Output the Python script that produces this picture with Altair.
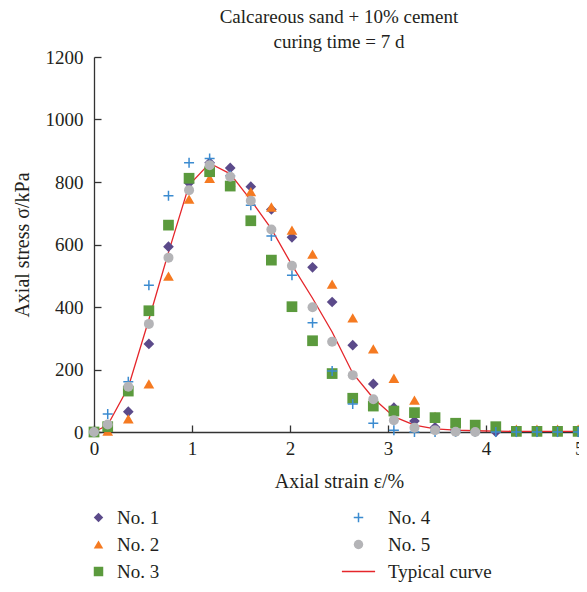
import altair as alt
import pandas as pd

# Axial strain (%) at which the points were recorded
strain = [0, 0.14, 0.35, 0.56, 0.76, 0.97, 1.18, 1.39, 1.60, 1.81, 2.02, 2.23, 2.43,
          2.64, 2.85, 3.06, 3.27, 3.48, 3.69, 3.89, 4.10, 4.31, 4.52, 4.73, 4.94]

# Axial stress (kPa) of each specimen
no1 = [0, 18, 65, 282, 593, 797, 862, 845, 785, 712, 623, 527, 416,
       278, 154, 78, 35, 15, 6, 3, 0, 0, 0, 0, 0]
no2 = [0, 3, 42, 154, 499, 745, 812, 800, 769, 720, 646, 569, 473,
       365, 266, 172, 102, 50, 30, 20, 14, 9, 9, 9, 9]
no3 = [0, 17, 131, 388, 662, 812, 833, 787, 676, 550, 401, 292, 187,
       108, 83, 67, 62, 46, 28, 22, 17, 2, 2, 2, 2]
no4 = [0, 58, 161, 470, 756, 862, 875, 820, 726, 627, 502, 350, 195,
       90, 28, 6, 0, 0, 0, 0, 0, 0, 0, 0, 0]
no5 = [0, 24, 145, 346, 558, 774, 854, 817, 740, 648, 532, 399, 289,
       182, 105, 38, 14, 6, 1, 0, None, None, None, None, None]
typical = [0, 22, 143, 360, 575, 790, 860, 826, 742, 650, 534, 428, 320,
           188, 108, 49, 22, 10, 6, 4, 3, 2, 2, 2, 2]

series_a = ["No. 1", "No. 2", "No. 3"]
series_b = ["No. 4", "No. 5", "Typical curve"]
colors_a = ["#5b4a8a", "#f57a21", "#5b9a3d"]
colors_b = ["#3b8bd0", "#b4b4b7", "#e5262b"]
shapes_a = ["diamond", "triangle-up", "square"]
shapes_b = ["M-1,0H1M0,-1V1", "circle", "M-3.5,0H3.5"]

x_ticks = [0, 1, 2, 3, 4, 5]
y_ticks = [0, 200, 400, 600, 800, 1000, 1200]

title_lines = ["Calcareous sand + 10% cement", "curing time = 7 d"]
x_title = "Axial strain ε/%"
y_title = "Axial stress σ/kPa"


def long_table(names, columns):
    rows = []
    for name, vals in zip(names, columns):
        for s, v in zip(strain, vals):
            if v is not None:
                rows.append({"strain": s, "stress": v, "series": name})
    return pd.DataFrame(rows)


df_a = long_table(series_a, [no1, no2, no3])
df_b = long_table(series_b[:2], [no4, no5])
df_line = pd.DataFrame({"strain": strain, "stress": typical})

FONT = "Liberation Serif"
INK = "#231f20"


def build(W, H, pad_right):
    x_scale = alt.Scale(domain=[0, 5], nice=False, zero=False)
    y_scale = alt.Scale(domain=[0, 1200], nice=False)

    main_x_axis = alt.Axis(
        orient="bottom",
        title=x_title, values=x_ticks, format="d", ticks=False, grid=False,
        labelFlush=False, labelPadding=7, labelFont=FONT, labelFontSize=19,
        labelAlign={"expr": "datum.value == 5 ? 'right' : 'center'"},
        labelColor=INK, titleFont=FONT, titleFontSize=20, titleFontWeight="normal",
        titleColor=INK, titleX=W / 2, titleY=55, titleBaseline="alphabetic",
        domainColor="#333333", domainWidth=1.3,
    )
    main_y_axis = alt.Axis(
        orient="left",
        title=y_title, values=y_ticks, format="d", ticks=False, grid=False,
        labelFlush=False, labelPadding=11, labelFont=FONT, labelFontSize=19,
        labelColor=INK, titleFont=FONT, titleFontSize=20, titleFontWeight="normal",
        titleColor=INK, titleAngle=270, titleX=-66, titleY=H / 2,
        titleBaseline="alphabetic", titleAlign="center",
        domainColor="#333333", domainWidth=1.3,
    )
    tick_x_axis = alt.Axis(
        orient="top", offset=-H, values=x_ticks, labels=False, domain=False,
        grid=False, title=None, ticks=True, tickSize=7, tickColor="#333333",
        tickWidth=1.3,
    )
    tick_y_axis = alt.Axis(
        orient="right", offset=-W, values=y_ticks, labels=False, domain=False,
        grid=False, title=None, ticks=True, tickSize=7, tickColor="#333333",
        tickWidth=1.3,
    )

    legend_a = alt.Legend(
        title=None, orient="none", legendX=-5, legendY=451, padding=0,
        labelFont=FONT, labelFontSize=19, labelColor=INK, labelOffset=9,
        symbolSize=90, rowPadding=7,
    )
    legend_b = alt.Legend(
        title=None, orient="none", legendX=255, legendY=451, padding=0,
        labelFont=FONT, labelFontSize=19, labelColor=INK, labelOffset=20,
        symbolSize=90, symbolStrokeWidth=1.5, rowPadding=7,
    )

    line = alt.Chart(df_line).mark_line(color="#e5262b", strokeWidth=1.3).encode(
        x=alt.X("strain:Q", scale=x_scale, axis=tick_x_axis),
        y=alt.Y("stress:Q", scale=y_scale, axis=tick_y_axis),
    )

    points_a = alt.Chart(df_a).mark_point(filled=True, opacity=1, size=115).encode(
        x=alt.X("strain:Q", scale=x_scale, axis=main_x_axis),
        y=alt.Y("stress:Q", scale=y_scale, axis=main_y_axis),
        color=alt.Color("series:N", scale=alt.Scale(domain=series_a, range=colors_a),
                        legend=legend_a),
        shape=alt.Shape("series:N", scale=alt.Scale(domain=series_a, range=shapes_a),
                        legend=legend_a),
    )

    points_b = alt.Chart(df_b).mark_point(filled=True, opacity=1, size=100,
                                          strokeWidth=1.5).encode(
        x=alt.X("strain:Q", scale=x_scale, axis=None),
        y=alt.Y("stress:Q", scale=y_scale, axis=None),
        fill=alt.Fill("series:N", scale=alt.Scale(domain=series_b, range=colors_b),
                      legend=legend_b),
        stroke=alt.Stroke("series:N",
                          scale=alt.Scale(domain=series_b,
                                          range=["#3b8bd0", "transparent", "#e5262b"]),
                          legend=legend_b),
        shape=alt.Shape("series:N", scale=alt.Scale(domain=series_b, range=shapes_b),
                        legend=legend_b),
    )

    return alt.layer(line, points_a, points_b).resolve_scale(
        color="independent", shape="independent", fill="independent",
        stroke="independent",
    ).resolve_axis(x="independent", y="independent").properties(
        width=W, height=H,
        autosize=alt.AutoSizeParams(type="none"),
        padding={"left": 86, "top": 49, "right": pad_right, "bottom": 151},
        title=alt.TitleParams(
            title_lines, font=FONT, fontSize=19, fontWeight="normal", color=INK,
            anchor="middle", lineHeight=25, offset=2, dy=6,
        ),
    ).configure_view(stroke=None)


try:
    chart = build(490, 375, -5)
    chart.to_dict()
except Exception:
    chart = build(485, 375, 0)

chart.save("out.html", embed_options={"renderer": "svg", "actions": False})
